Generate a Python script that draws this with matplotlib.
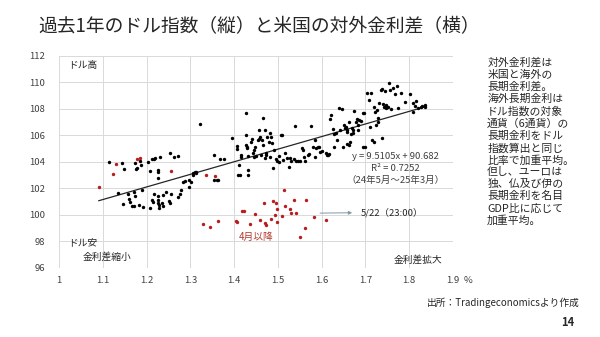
import matplotlib
matplotlib.use('Agg')
import matplotlib.pyplot as plt

plt.rcParams['font.family'] = ['Noto Sans CJK JP', 'DejaVu Sans']

# 対外金利差(%) とドル指数: 24年5月～25年3月
black_x = [1.114, 1.144, 1.148, 1.134, 1.147, 1.158, 1.161, 1.163, 1.167, 1.171,
           1.172, 1.174, 1.174, 1.176, 1.179, 1.182, 1.186, 1.188, 1.190, 1.191,
           1.204, 1.209, 1.213, 1.216, 1.219, 1.213, 1.215, 1.216, 1.207, 1.226,
           1.226, 1.226, 1.226, 1.227, 1.227, 1.228, 1.228, 1.231, 1.235, 1.238,
           1.238, 1.245, 1.252, 1.254, 1.254, 1.257, 1.263, 1.273, 1.273, 1.276,
           1.278, 1.284, 1.288, 1.297, 1.298, 1.301, 1.305, 1.307, 1.310, 1.313,
           1.314, 1.321, 1.353, 1.355, 1.360, 1.364, 1.368, 1.377, 1.395, 1.406,
           1.406, 1.408, 1.413, 1.416, 1.416, 1.412, 1.427, 1.427, 1.428, 1.430,
           1.430, 1.432, 1.432, 1.432,
           1.438, 1.440, 1.444, 1.445, 1.446, 1.448, 1.451, 1.454, 1.457, 1.459,
           1.458, 1.462, 1.463, 1.467, 1.467, 1.470, 1.471, 1.472, 1.473, 1.475,
           1.479, 1.481, 1.483, 1.484, 1.486, 1.488, 1.490, 1.495, 1.498, 1.502,
           1.503, 1.507, 1.510, 1.511, 1.517, 1.521, 1.525, 1.527, 1.530, 1.536,
           1.539, 1.542, 1.546, 1.550, 1.554, 1.558, 1.559, 1.562, 1.568, 1.571,
           1.576, 1.581, 1.584, 1.585, 1.587, 1.591, 1.595, 1.597, 1.601, 1.610,
           1.612, 1.615, 1.616, 1.618, 1.622, 1.625, 1.628, 1.629, 1.633, 1.636,
           1.639, 1.642, 1.647, 1.649, 1.650, 1.653, 1.655, 1.657, 1.659, 1.659,
           1.662, 1.663, 1.665, 1.666, 1.669, 1.671, 1.672, 1.674, 1.678, 1.680,
           1.682, 1.684, 1.686, 1.691, 1.694, 1.697, 1.695, 1.698, 1.703, 1.707,
           1.710, 1.713, 1.716, 1.719, 1.720, 1.722, 1.724, 1.726, 1.728, 1.729,
           1.732, 1.735, 1.737, 1.738, 1.741, 1.743, 1.744, 1.746, 1.747, 1.748,
           1.752, 1.753, 1.756, 1.758, 1.763, 1.768, 1.772, 1.774, 1.781, 1.790,
           1.801, 1.808, 1.809, 1.813, 1.816, 1.820, 1.826, 1.830, 1.835, 1.836]
black_y = [103.95, 103.90, 103.47, 101.66, 100.80, 101.60, 101.20, 100.98, 100.68, 100.68,
           101.74, 101.43, 103.90, 103.47, 103.55, 100.76, 104.08, 103.73, 101.89, 100.62,
           103.95, 103.27, 104.20, 104.20, 104.25, 101.13, 100.95, 101.58, 100.50, 103.35,
           103.22, 102.77, 101.40, 101.10, 100.88, 100.70, 100.48, 104.35, 100.88, 100.68,
           101.48, 101.71, 101.06, 100.86, 104.63, 101.53, 104.33, 104.40, 101.30, 101.58,
           101.84, 102.49, 102.54, 102.06, 102.59, 102.47, 103.02, 103.17, 103.20, 103.20,
           103.12, 106.82, 104.48, 102.62, 102.59, 102.59, 104.18, 104.18, 105.79, 105.16,
           104.96, 103.02, 103.00, 104.38, 104.48, 103.75, 107.70, 106.01, 105.23, 105.13,
           105.01, 104.43, 103.35, 103.00,
           105.48, 105.69, 104.63, 104.38, 104.88, 105.08, 104.45, 105.64, 105.71, 105.86,
           106.39, 104.50, 105.64, 107.32, 105.23, 104.25, 106.39, 104.63, 104.50, 105.89,
           105.51, 104.38, 106.14, 105.89, 105.38, 103.50, 104.88, 104.20, 104.08, 104.45,
           104.00, 106.01, 105.99, 104.13, 104.68, 104.25, 103.60, 104.28, 104.08, 104.23,
           106.69, 104.08, 104.03, 104.08, 105.03, 104.88, 104.35, 104.08, 104.50, 104.60,
           106.69, 105.08, 104.38, 105.64, 105.01, 105.13, 105.08, 104.75, 104.78, 104.63,
           104.53, 104.50, 104.58, 107.22, 107.52, 106.44, 106.06, 105.13, 106.14, 105.64,
           108.08, 106.39, 107.95, 105.08, 106.77, 106.52, 106.59, 106.39, 106.26, 105.31,
           105.26, 107.02, 105.51, 106.09, 106.52, 106.39, 106.19, 107.85, 107.02, 107.22,
           106.77, 106.39, 107.14, 107.09, 107.65, 107.70, 105.13, 105.08, 109.16, 108.65,
           106.59, 109.16, 105.64, 108.15, 105.51, 107.77, 106.77, 107.90, 107.02, 107.27,
           108.45, 109.41, 105.76, 109.46, 108.35, 108.15, 109.36, 108.28, 108.03, 108.15,
           108.15, 109.91, 109.41, 107.97, 109.53, 109.11, 109.74, 108.03, 109.16, 108.53,
           109.11, 107.75, 108.45, 108.20, 108.58, 108.03, 108.15, 108.18, 108.28, 108.10]

# 4月以降
red_x = [1.091, 1.124, 1.131, 1.178, 1.184, 1.257, 1.330, 1.346, 1.363, 1.336,
         1.356, 1.405, 1.407, 1.419, 1.423, 1.437, 1.448, 1.460, 1.469, 1.471,
         1.473, 1.484, 1.488, 1.494, 1.496, 1.497, 1.498, 1.510, 1.514, 1.516,
         1.527, 1.530, 1.537, 1.541, 1.551, 1.561, 1.564, 1.583, 1.609]
red_y = [102.10, 103.05, 103.85, 104.20, 104.30, 103.30, 99.30, 99.05, 99.50, 103.00,
         102.95, 99.50, 99.42, 100.30, 100.28, 99.27, 100.08, 99.62, 100.90, 99.35,
         99.22, 99.67, 101.06, 99.95, 100.90, 100.40, 99.45, 99.90, 101.84, 100.66,
         100.45, 100.14, 101.10, 100.16, 98.30, 98.96, 101.13, 99.85, 99.60]

# 回帰直線 y = 9.5105x + 90.682
slope, intercept = 9.5105, 90.682
fit_range = [1.091, 1.838]

x_ticks = [1, 1.1, 1.2, 1.3, 1.4, 1.5, 1.6, 1.7, 1.8, 1.9]
x_labels = ['1', '1.1', '1.2', '1.3', '1.4', '1.5', '1.6', '1.7', '1.8', '1.9']
y_ticks = [96, 98, 100, 102, 104, 106, 108, 110, 112]

note = ('対外金利差は\n米国と海外の\n長期金利差。\n海外長期金利は\nドル指数の対象\n'
        '通貨（6通貨）の\n長期金利をドル\n指数算出と同じ\n比率で加重平均。\n'
        '但し、ユーロは\n独、仏及び伊の\n長期金利を名目\nGDP比に応じて\n加重平均。')

fig = plt.figure(figsize=(6, 3.37), dpi=100)
ax = fig.add_axes([0.0983, 0.2056, 0.6567, 0.629])

ax.scatter(black_x, black_y, s=6, color='black', zorder=3, linewidths=0)
ax.scatter(red_x, red_y, s=6, color='#b81c1c', zorder=3, linewidths=0)
ax.plot(fit_range, [slope * v + intercept for v in fit_range],
        color='#262626', lw=0.9, zorder=2)

ax.set_xlim(1, 1.9)
ax.set_ylim(96, 112)
ax.set_xticks(x_ticks)
ax.set_xticklabels(x_labels)
ax.set_yticks(y_ticks)
ax.grid(True, color='#d9d9d9', lw=0.7)
ax.set_axisbelow(True)
for s in ax.spines.values():
    s.set_visible(False)
ax.tick_params(length=0, labelsize=6.8, colors='#404040')
ax.tick_params(axis='y', pad=10)
ax.tick_params(axis='x', pad=6)
ax.text(1.925, -0.058, '%', transform=ax.get_xaxis_transform(), fontsize=6.8,
        color='#404040', ha='left', va='center')

txt = dict(fontsize=7, color='#262626')
ax.text(1.02, 111.3, 'ドル高', va='center', **txt)
ax.text(1.02, 97.9, 'ドル安', va='center', **txt)
ax.text(1.053, 96.85, '金利差縮小', va='center', **txt)
ax.text(1.875, 96.6, '金利差拡大', va='center', ha='right', **txt)
ax.text(1.41, 98.3, '4月以降', va='center', fontsize=7, color='#b03a2e')

eq_x = 1.769
ax.text(eq_x, 104.38, 'y = 9.5105x + 90.682', ha='center', va='center', fontsize=6.8, color='#404040')
ax.text(eq_x, 103.47, 'R² = 0.7252', ha='center', va='center', fontsize=6.8, color='#404040')
ax.text(eq_x, 102.57, '（24年5月～25年3月）', ha='center', va='center', fontsize=6.8, color='#404040')

ax.annotate('', xy=(1.676, 100.15), xytext=(1.59, 100.12),
            arrowprops=dict(arrowstyle='-|>', color='#7f9aa3', lw=0.7,
                            mutation_scale=5))
ax.text(1.689, 100.17, '5/22（23:00）', va='center', fontsize=6.8, color='#262626')

fig.text(0.432, 0.92, '過去1年のドル指数（縦）と米国の対外金利差（横）',
         ha='center', va='center', fontsize=13.5, color='#262626')
fig.text(0.812, 0.83, note, ha='left', va='top', fontsize=7.8,
         color='#262626', linespacing=1.22)
fig.text(0.967, 0.101, '出所：Tradingeconomicsより作成', ha='right', va='center',
         fontsize=7, color='#262626')
fig.text(0.958, 0.042, '14', ha='right', va='center', fontsize=8,
         fontweight='bold', color='#262626')

fig.savefig('out.png', dpi=100)
